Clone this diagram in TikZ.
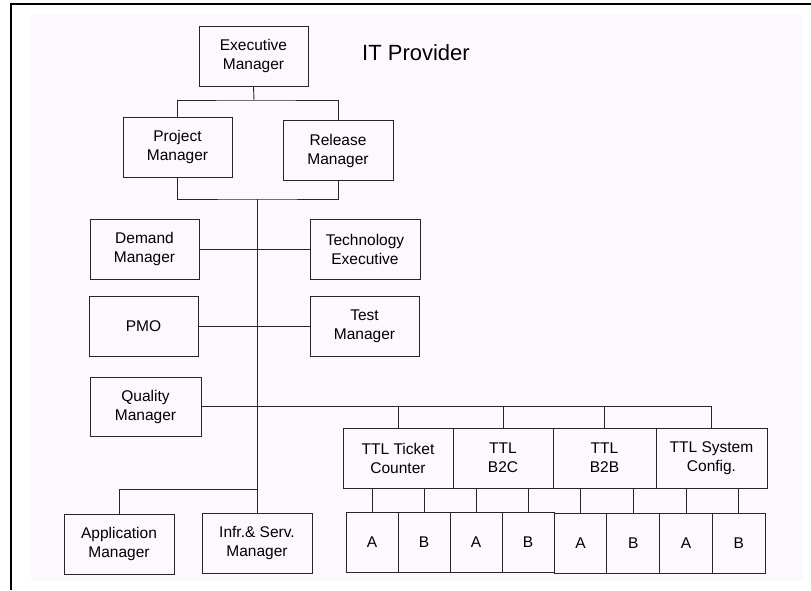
\documentclass[tikz,border=0pt]{standalone}
\usepackage{fontspec}
\setmainfont{Liberation Sans}
\definecolor{bgpink}{RGB}{253,248,253}
\tikzset{
  role/.style={draw=black!85, line width=0.9pt, align=center, inner sep=0pt,
               minimum width=109pt, minimum height=60pt,
               font=\fontsize{15.5}{19}\selectfont},
  leaf/.style={role, minimum width=52pt},
  link/.style={draw=black!85, line width=0.9pt}
}

\begin{document}
\begin{tikzpicture}[x=1pt, y=-1pt]
\useasboundingbox (0,0) rectangle (811,590);
\fill[bgpink] (31,14) rectangle (803,581);
\draw[line width=2pt] (11,590) -- (11,4) -- (811,4);

\node[role] (exec) at (253.5,56) {Executive\\Manager};
\node[font=\fontsize{22}{26}\selectfont] (title) at (416,53) {IT Provider};
\node[role] (proj) at (177.5,147) {Project\\Manager};
\node[role, minimum width=110pt] (rel) at (338,150.5) {Release\\Manager};
\node[role] (demand) at (144.5,249) {Demand\\Manager};
\node[role, minimum width=110pt] (tech) at (365,249) {Technology\\Executive};
\node[role] (pmo) at (143.5,326) {PMO};
\node[role] (test) at (364.5,326) {Test\\Manager};
\node[role, minimum width=111pt, minimum height=59pt] (quality) at (145.5,406.5) {Quality\\Manager};
\node[role, minimum width=110pt] (app) at (119,544) {Application\\Manager};
\node[role, minimum width=110pt] (infr) at (257,543) {Infr.\& Serv.\\Manager};

\node[role, minimum width=110pt] (ttl1) at (398,458) {TTL Ticket\\Counter};
\node[role, minimum width=100pt] (ttl2) at (503,458) {TTL\\B2C};
\node[role, minimum width=103pt] (ttl3) at (604.5,458) {TTL\\B2B};
\node[role, minimum width=111pt] (ttl4) at (711.5,458) {TTL System\\Config.};

\foreach \n/\x/\t in {l1/372/A,l2/424/B,l3/476/A,l4/528/B}
  \node[leaf] (\n) at (\x,542) {\t};
\foreach \n/\x/\t in {l5/580.5/A,l6/633.25/B,l7/686/A,l8/738.75/B}
  \node[leaf, minimum width=52.75pt] (\n) at (\x,543) {\t};

\coordinate (top) at (254,100);
\coordinate (hub) at (257,199);
\coordinate (split) at (257,489);

\draw[link] (exec.south) -- (top);
\draw[link] (proj.north) |- (top) -| (rel.north);
\draw[link] (proj.south) |- (hub) -| (rel.south);
\draw[link] (hub) -- (infr.north);
\draw[link] (split) -| (app.north);
\draw[link] (demand) -- (tech);
\draw[link] (pmo) -- (test);
\foreach \t in {ttl1,ttl2,ttl3,ttl4}
  \draw[link] (quality.east) -| (\t.north);
\foreach \l/\t in {l1/ttl1,l2/ttl1,l3/ttl2,l4/ttl2,l5/ttl3,l6/ttl3,l7/ttl4,l8/ttl4}
  \draw[link] (\l.north |- \t.south) -- (\l.north);
\end{tikzpicture}
\end{document}
